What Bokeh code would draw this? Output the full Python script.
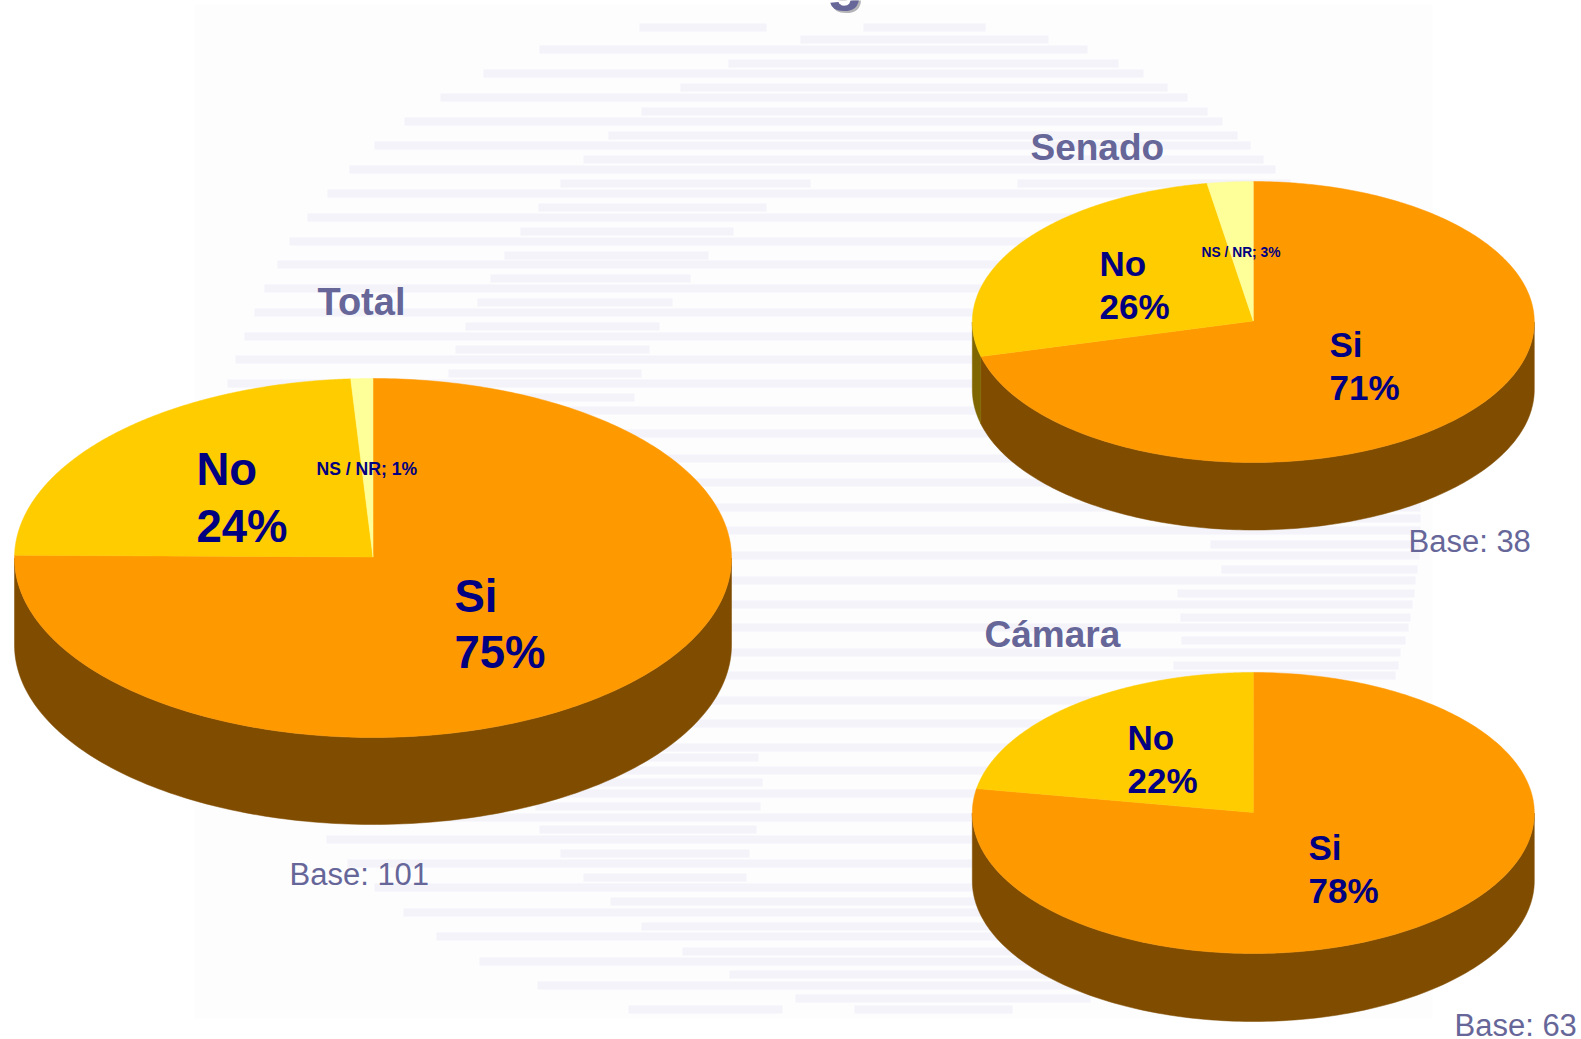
import numpy as np
from bokeh.core.properties import value
from bokeh.embed import file_html
from bokeh.models import ColumnDataSource, Range1d
from bokeh.plotting import figure
from bokeh.resources import INLINE

# ---------- chart data ----------
panels = ["Total", "Senado", "Cámara"]
bases = [101, 38, 63]
si_counts = [76, 27, 49]
no_counts = [24, 10, 14]
nsnr_counts = [1, 1, 0]
slice_names = ["Si", "No", "NS / NR"]

# ---------- layout of each panel: page pixels ----------
pie_cx = [372.5, 1252.8, 1252.8]
pie_cy = [557.5, 321.5, 812.5]
pie_rx = [358.5, 281.0, 281.0]
pie_ry = [179.5, 140.5, 140.5]
pie_depth = [87, 67.5, 68]
apex_dy = [-1.0, -1.0, -0.5]

title_pos = [(317, 316), (1030, 161), (984, 648)]
base_pos = [(289, 886), (1408, 553), (1454, 1037)]
si_pos = [(454, 613, 669), (1329, 357, 400), (1308, 860, 903)]
no_pos = [(196, 486, 543), (1099, 276, 319), (1127, 750, 793)]
nsnr_pos = [(316, 475), (1201, 257), None]
title_size = [38, 37, 37]
big_size = [45.5, 35, 35]
nsnr_size = [17.6, 13.8, None]

TOP_COLORS = {"Si": "#FF9900", "No": "#FFCC00", "NS / NR": "#FFFF99"}
SIDE_COLORS = {"Si": "#804D00", "No": "#806600", "NS / NR": "#808040"}
NAVY = "#000080"
SLATE = "#666699"
FONT = "Liberation Sans"
BASELINE_FIX = 0.38  # share of the font size the SVG text lands below its anchor

# ---------- the pale striped globe behind the pies ----------
long_rows = [
    (49, 539, 1087), (73, 483, 1143), (97, 440, 1187), (121, 404, 1222),
    (145, 374, 1250), (169, 349, 1275), (193, 327, 1300), (217, 307, 1320),
    (241, 289, 1340), (264, 277, 1355), (288, 264, 1370), (312, 254, 1380),
    (336, 244, 1395), (359, 235, 1405), (383, 227, 1412), (410, 220, 1416),
    (433, 215, 1418), (458, 212, 1419), (482, 210, 1420), (507, 208, 1420),
    (530, 210, 1420), (555, 212, 1419), (580, 214, 1415), (604, 218, 1412),
    (627, 222, 1408), (652, 228, 1400), (675, 236, 1395), (700, 244, 1385),
    (723, 254, 1375), (747, 265, 1360), (770, 280, 1345), (793, 296, 1330),
    (817, 310, 1310), (839, 326, 1295), (863, 347, 1270), (887, 374, 1245),
    (912, 403, 1215), (936, 436, 1180), (961, 479, 1140), (985, 537, 1080),
]
short_rows = [
    (27, 639, 766), (27, 863, 985), (39, 800, 1048), (63, 728, 1118),
    (87, 680, 1167), (111, 641, 1207), (135, 608, 1237), (159, 583, 1263),
    (183, 560, 810), (183, 1017, 1290), (207, 538, 766), (231, 520, 733),
    (255, 504, 708), (278, 490, 690), (302, 477, 672), (326, 465, 659),
    (349, 455, 649), (373, 448, 641), (397, 440, 634),
    (518, 1180, 1420), (544, 1210, 1419), (569, 1221, 1417), (593, 1177, 1414),
    (617, 1180, 1410), (640, 1181, 1405), (665, 1173, 1398),
    (757, 540, 758), (782, 535, 762), (806, 535, 760), (829, 539, 756),
    (853, 560, 749), (877, 583, 746), (901, 610, 1300), (926, 641, 1270),
    (951, 682, 1230), (974, 729, 1170), (998, 795, 1090),
    (1009, 628, 782), (1009, 854, 1012),
]


def rim(cx, cy, rx, ry, deg):
    t = np.radians(deg)
    return cx + rx * np.sin(t), cy - ry * np.cos(t)


p = figure(
    width=1581, height=1039, output_backend="svg", toolbar_location=None,
    x_range=Range1d(0, 1581), y_range=Range1d(1039, 0),
    min_border=0, min_border_left=0, min_border_right=0,
    min_border_top=0, min_border_bottom=0,
    background_fill_color="#FFFFFF", border_fill_color="#FFFFFF",
    outline_line_color=None,
)
p.axis.visible = False
p.grid.visible = False
p.styles = {"position": "absolute", "left": "0px", "top": "0px"}

p.quad(left=[194], right=[1432], top=[4], bottom=[1018],
       fill_color="#FDFDFE", line_color=None)
rows = long_rows + short_rows
p.hbar(y=[r[0] for r in rows], left=[r[1] for r in rows],
       right=[r[2] for r in rows], height=8,
       fill_color="#F4F3F9", line_color=None)


def put(x, y, s, size, color, bold=True):
    p.text([x], [y - BASELINE_FIX * size], text=[s], text_color=color,
           text_font=value(FONT),
           text_font_style="bold" if bold else "normal",
           text_font_size=f"{size}px", text_baseline="alphabetic", text_align="left")


# title fragment cropped at the top of the picture, with its soft shadow
put(828, 2.5, "g", 60, "#B4B4B8")
put(826, 1, "g", 60, SLATE)

side_xs, side_ys, side_col = [], [], []
top_xs, top_ys, top_col = [], [], []

for i, name in enumerate(panels):
    total = si_counts[i] + no_counts[i] + nsnr_counts[i]
    cx, cy, rx, ry = pie_cx[i], pie_cy[i], pie_rx[i], pie_ry[i]
    start = 0.0
    for label, count in zip(slice_names, (si_counts[i], no_counts[i], nsnr_counts[i])):
        end = start + 360.0 * count / total
        if count:
            # side wall: only the part of the rim on the front half shows
            a, b = max(start, 90.0), min(end, 270.0)
            if b > a:
                t = np.linspace(a, b, 160)
                x, y = rim(cx, cy, rx, ry, t)
                side_xs.append(np.r_[x, x[::-1]].tolist())
                side_ys.append(np.r_[y, y[::-1] + pie_depth[i]].tolist())
                side_col.append(SIDE_COLORS[label])
            t = np.linspace(start, end, 300)
            x, y = rim(cx, cy, rx, ry, t)
            top_xs.append(np.r_[cx, x].tolist())
            top_ys.append(np.r_[cy + apex_dy[i], y].tolist())
            top_col.append(TOP_COLORS[label])
        start = end

p.patches(xs="xs", ys="ys", fill_color="c", line_color="c", line_width=0.5,
          source=ColumnDataSource(dict(xs=side_xs, ys=side_ys, c=side_col)))
p.patches(xs="xs", ys="ys", fill_color="c", line_color="c", line_width=0.5,
          source=ColumnDataSource(dict(xs=top_xs, ys=top_ys, c=top_col)))

for i, name in enumerate(panels):
    total = bases[i]
    put(title_pos[i][0], title_pos[i][1], name, title_size[i], SLATE)
    put(base_pos[i][0], base_pos[i][1], f"Base: {total}", 31, SLATE, bold=False)
    sx, sy1, sy2 = si_pos[i]
    put(sx, sy1, slice_names[0], big_size[i], NAVY)
    put(sx, sy2, f"{round(100 * si_counts[i] / total)}%", big_size[i], NAVY)
    nx, ny1, ny2 = no_pos[i]
    put(nx, ny1, slice_names[1], big_size[i], NAVY)
    put(nx, ny2, f"{round(100 * no_counts[i] / total)}%", big_size[i], NAVY)
    if nsnr_counts[i]:
        put(nsnr_pos[i][0], nsnr_pos[i][1],
            f"{slice_names[2]}; {round(100 * nsnr_counts[i] / total)}%",
            nsnr_size[i], NAVY)

open("out.html", "w").write(file_html(p, INLINE))
